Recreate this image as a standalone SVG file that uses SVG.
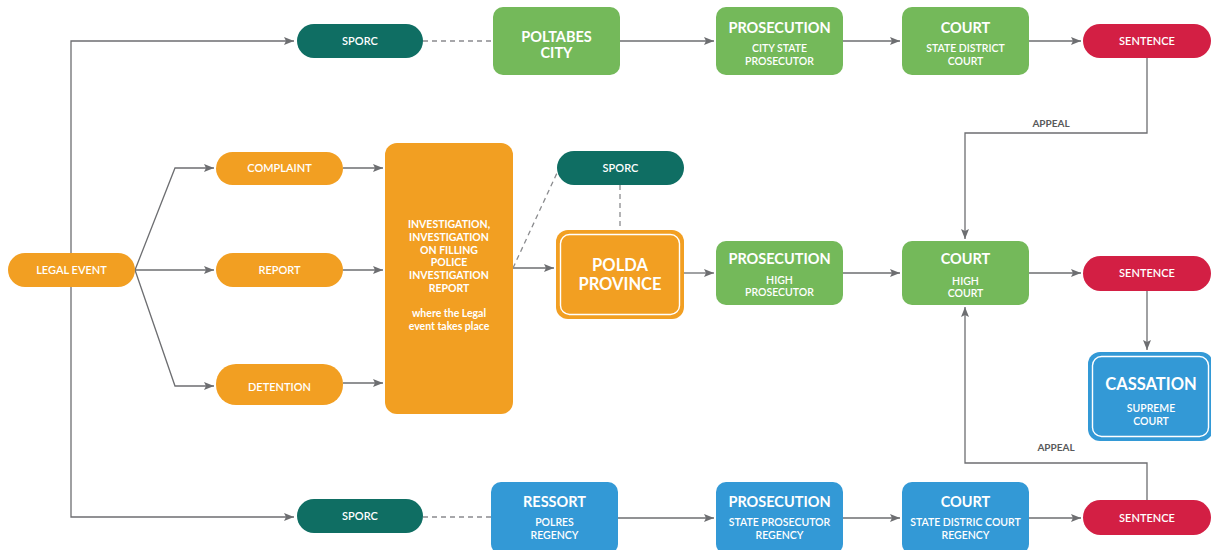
<svg xmlns="http://www.w3.org/2000/svg" width="1211" height="550" viewBox="0 0 1211 550">
  <style>
    .bg { fill: #ffffff; }
    .line { fill: none; stroke: #6d6e71; stroke-width: 1.3; }
    .dash { fill: none; stroke: #8a8b8e; stroke-width: 1.3; stroke-dasharray: 5 4; }
    .orange { fill: #f29f22; }
    .teal { fill: #0f6e63; }
    .green { fill: #74b95a; }
    .red { fill: #d31f44; }
    .blue { fill: #3399d6; }
    .inner { fill: none; stroke: #ffffff; stroke-width: 1.4; }
    text { font-family: Lato, "Open Sans", "Liberation Sans", sans-serif; fill: #ffffff; text-anchor: middle; }
    .pill { font-size: 11px; font-weight: 600; }
    .title { font-size: 14.5px; font-weight: 700; }
    .big { font-size: 16.5px; font-weight: 700; }
    .sub { font-size: 10.5px; font-weight: 600; }
    .inv { font-size: 10.5px; font-weight: 700; }
    .lbl { font-size: 10px; font-weight: 700; fill: #58595b; }
  </style>
  <defs>
    <marker id="arrow" markerUnits="userSpaceOnUse" markerWidth="12" markerHeight="10" refX="10" refY="4" orient="auto">
      <path d="M0,0 L10,4 L0,8 L2,4 z" fill="#6d6e71"/>
    </marker>
  </defs>

  <rect class="bg" x="0" y="0" width="1211" height="550"/>

  <!-- connectors -->
  <g id="connectors">
    <!-- legal event to the city / regency branches -->
    <path class="line" d="M71,270 L71,41 L294,41" marker-end="url(#arrow)"/>
    <path class="line" d="M71,270 L71,517 L294,517" marker-end="url(#arrow)"/>
    <!-- legal event fan-out -->
    <path class="line" d="M135,270 L175,168 L214,168" marker-end="url(#arrow)"/>
    <path class="line" d="M135,270 L214,270" marker-end="url(#arrow)"/>
    <path class="line" d="M135,270 L175,386 L214,386" marker-end="url(#arrow)"/>
    <!-- into investigation -->
    <path class="line" d="M343,168 L383,168" marker-end="url(#arrow)"/>
    <path class="line" d="M343,270 L383,270" marker-end="url(#arrow)"/>
    <path class="line" d="M343,383 L383,383" marker-end="url(#arrow)"/>
    <!-- investigation to polda -->
    <path class="line" d="M513,268 L554,268" marker-end="url(#arrow)"/>
    <path class="dash" d="M513,268 L557,173"/>
    <path class="dash" d="M620,185 L620,230"/>

    <!-- top row -->
    <path class="dash" d="M423,41 L493,41"/>
    <path class="line" d="M620,41 L714,41" marker-end="url(#arrow)"/>
    <path class="line" d="M843,41 L900,41" marker-end="url(#arrow)"/>
    <path class="line" d="M1029,41 L1081,41" marker-end="url(#arrow)"/>
    <path class="line" d="M1147,58 L1147,133 L965,133 L965,239" marker-end="url(#arrow)"/>

    <!-- middle row -->
    <path class="line" d="M684,273 L714,273" marker-end="url(#arrow)"/>
    <path class="line" d="M843,273 L900,273" marker-end="url(#arrow)"/>
    <path class="line" d="M1029,273 L1081,273" marker-end="url(#arrow)"/>
    <path class="line" d="M1147,291 L1147,350" marker-end="url(#arrow)"/>

    <!-- bottom row -->
    <path class="dash" d="M423,517 L491,517"/>
    <path class="line" d="M618,518 L714,518" marker-end="url(#arrow)"/>
    <path class="line" d="M843,518 L900,518" marker-end="url(#arrow)"/>
    <path class="line" d="M1029,518 L1081,518" marker-end="url(#arrow)"/>
    <path class="line" d="M1147,500 L1147,463 L965,463 L965,307" marker-end="url(#arrow)"/>

    <text class="lbl" x="1051" y="127">APPEAL</text>
    <text class="lbl" x="1056" y="451">APPEAL</text>
  </g>

  <!-- left side -->
  <g id="legal-event">
    <rect class="orange" x="8" y="253" width="127" height="34" rx="17"/>
    <text class="pill" x="71.5" y="274">LEGAL EVENT</text>
  </g>
  <g id="complaint">
    <rect class="orange" x="216" y="152" width="127" height="33" rx="16.5"/>
    <text class="pill" x="279.5" y="172">COMPLAINT</text>
  </g>
  <g id="report">
    <rect class="orange" x="216" y="253" width="127" height="34" rx="17"/>
    <text class="pill" x="279.5" y="274">REPORT</text>
  </g>
  <g id="detention">
    <rect class="orange" x="216" y="364" width="127" height="41" rx="20"/>
    <text class="pill" x="279.5" y="391">DETENTION</text>
  </g>
  <g id="investigation">
    <rect class="orange" x="385" y="143" width="128" height="271" rx="12"/>
    <text class="inv" x="449" y="228">INVESTIGATION,</text>
    <text class="inv" x="449" y="241">INVESTIGATION</text>
    <text class="inv" x="449" y="254">ON FILLING</text>
    <text class="inv" x="449" y="266">POLICE</text>
    <text class="inv" x="449" y="279">INVESTIGATION</text>
    <text class="inv" x="449" y="292">REPORT</text>
    <text class="inv" x="449" y="317">where the Legal</text>
    <text class="inv" x="449" y="330">event takes place</text>
  </g>

  <!-- top row: city -->
  <g id="sporc-city">
    <rect class="teal" x="297" y="24" width="126" height="34" rx="17"/>
    <text class="pill" x="360" y="45">SPORC</text>
  </g>
  <g id="poltabes-city">
    <rect class="green" x="493" y="7" width="127" height="68" rx="10"/>
    <text class="title" x="556.5" y="42">POLTABES</text>
    <text class="title" x="556.5" y="58">CITY</text>
  </g>
  <g id="prosecution-city">
    <rect class="green" x="716" y="7" width="127" height="68" rx="10"/>
    <text class="title" x="779.5" y="33">PROSECUTION</text>
    <text class="sub" x="779.5" y="52">CITY STATE</text>
    <text class="sub" x="779.5" y="65">PROSECUTOR</text>
  </g>
  <g id="court-city">
    <rect class="green" x="902" y="7" width="127" height="68" rx="10"/>
    <text class="title" x="965.5" y="33">COURT</text>
    <text class="sub" x="965.5" y="52">STATE DISTRICT</text>
    <text class="sub" x="965.5" y="65">COURT</text>
  </g>
  <g id="sentence-city">
    <rect class="red" x="1083" y="24" width="128" height="34" rx="17"/>
    <text class="pill" x="1147" y="45">SENTENCE</text>
  </g>

  <!-- middle row: province -->
  <g id="sporc-province">
    <rect class="teal" x="557" y="151" width="127" height="34" rx="17"/>
    <text class="pill" x="620.5" y="172">SPORC</text>
  </g>
  <g id="polda-province">
    <rect class="orange" x="556" y="230" width="128" height="89" rx="12"/>
    <rect class="inner" x="560.5" y="234.5" width="119" height="80" rx="9"/>
    <text class="big" x="620" y="271">POLDA</text>
    <text class="big" x="620" y="290">PROVINCE</text>
  </g>
  <g id="prosecution-high">
    <rect class="green" x="716" y="241" width="127" height="64" rx="10"/>
    <text class="title" x="779.5" y="264">PROSECUTION</text>
    <text class="sub" x="779.5" y="284">HIGH</text>
    <text class="sub" x="779.5" y="296">PROSECUTOR</text>
  </g>
  <g id="court-high">
    <rect class="green" x="902" y="241" width="127" height="64" rx="10"/>
    <text class="title" x="965.5" y="264">COURT</text>
    <text class="sub" x="965.5" y="285">HIGH</text>
    <text class="sub" x="965.5" y="297">COURT</text>
  </g>
  <g id="sentence-high">
    <rect class="red" x="1083" y="256" width="128" height="35" rx="17.5"/>
    <text class="pill" x="1147" y="277">SENTENCE</text>
  </g>
  <g id="cassation">
    <rect class="blue" x="1088" y="352" width="125" height="89" rx="12"/>
    <rect class="inner" x="1092.5" y="356.5" width="116" height="80" rx="9"/>
    <text class="big" x="1151" y="390">CASSATION</text>
    <text class="sub" x="1151" y="412">SUPREME</text>
    <text class="sub" x="1151" y="425">COURT</text>
  </g>

  <!-- bottom row: regency -->
  <g id="sporc-regency">
    <rect class="teal" x="297" y="499" width="126" height="34" rx="17"/>
    <text class="pill" x="360" y="520">SPORC</text>
  </g>
  <g id="ressort-regency">
    <rect class="blue" x="491" y="482" width="127" height="72" rx="10"/>
    <text class="title" x="554.5" y="507">RESSORT</text>
    <text class="sub" x="554.5" y="526">POLRES</text>
    <text class="sub" x="554.5" y="539">REGENCY</text>
  </g>
  <g id="prosecution-regency">
    <rect class="blue" x="716" y="482" width="127" height="72" rx="10"/>
    <text class="title" x="779.5" y="507">PROSECUTION</text>
    <text class="sub" x="779.5" y="526">STATE PROSECUTOR</text>
    <text class="sub" x="779.5" y="539">REGENCY</text>
  </g>
  <g id="court-regency">
    <rect class="blue" x="902" y="482" width="127" height="72" rx="10"/>
    <text class="title" x="965.5" y="507">COURT</text>
    <text class="sub" x="965.5" y="526">STATE DISTRIC COURT</text>
    <text class="sub" x="965.5" y="539">REGENCY</text>
  </g>
  <g id="sentence-regency">
    <rect class="red" x="1083" y="500" width="128" height="35" rx="17.5"/>
    <text class="pill" x="1147" y="522">SENTENCE</text>
  </g>
</svg>
